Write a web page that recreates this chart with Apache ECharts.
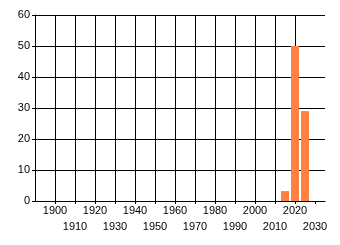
<!DOCTYPE html>
<html><head><meta charset="utf-8">
<script src="https://cdn.jsdelivr.net/npm/echarts@6/dist/echarts.min.js"></script>
<style>html,body{margin:0;padding:0;background:#fff}#c{width:340px;height:245px}</style>
</head><body><div id="c"></div>
<script>
const years = [2015, 2020, 2025];
const values = [3.2, 50, 29];
const xMin = 1890, xMax = 2035, xStep = 10;
const yMin = 0, yMax = 60, yStep = 10;
const xTickValues = [1890, 1900, 1910, 1920, 1930, 1940, 1950, 1960, 1970, 1980, 1990, 2000, 2010, 2020, 2030];

const chart = echarts.init(document.getElementById('c'), null, {renderer: 'canvas'});
const font = 'Liberation Sans';
chart.setOption({
  animation: false,
  grid: {left: 35, right: 15, top: 15, bottom: 44, containLabel: false},
  xAxis: {
    type: 'value', min: xMin, max: xMax, interval: xStep,
    axisLine: {show: true, onZero: false, lineStyle: {color: '#000', width: 1}},
    axisTick: {show: true, length: 3, customValues: xTickValues, lineStyle: {color: '#000'}},
    splitLine: {show: true, showMinLine: false, showMaxLine: false, lineStyle: {color: '#000', width: 1}},
    axisLabel: {
      color: '#000', fontFamily: font, fontSize: 11, margin: 2, lineHeight: 16,
      showMinLabel: false, showMaxLabel: false,
      formatter: v => (Math.round((v - 1900) / 10) % 2 !== 0) ? '\n' + v : String(v)
    }
  },
  yAxis: {
    type: 'value', min: yMin, max: yMax, interval: yStep,
    axisLine: {show: true, lineStyle: {color: '#000', width: 1}},
    axisTick: {show: true, length: 3, lineStyle: {color: '#000'}},
    splitLine: {show: true, lineStyle: {color: '#000', width: 1}},
    axisLabel: {color: '#000', fontFamily: font, fontSize: 11, margin: 5}
  },
  series: [{
    type: 'bar', barWidth: 8,
    data: years.map((y, i) => [y, values[i]]),
    itemStyle: {color: '#FF8040'}
  }]
});
</script></body></html>
